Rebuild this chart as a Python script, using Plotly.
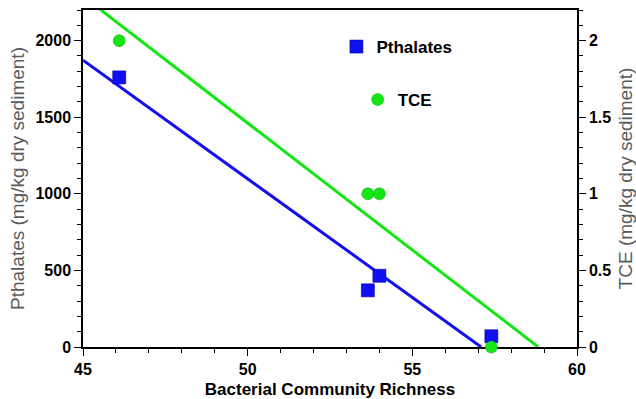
import numpy as np
import plotly.graph_objects as go

# Bacterial community richness at each sampling site
richness = [46.1, 53.65, 54.0, 57.4]
# Contaminant concentrations (mg/kg dry sediment)
pthalates = [1760, 370, 465, 70]
tce = [2.0, 1.0, 1.0, 0.0]

BLUE = "#0F0FF2"
GREEN = "#14E614"
FONT = "Liberation Sans, Arial, sans-serif"


def fit_line(x, y, x_start):
    """Least-squares line from x_start to where it meets zero."""
    slope, intercept = np.polyfit(x, y, 1)
    x_zero = -intercept / slope
    xs = [x_start, x_zero]
    return xs, [slope * v + intercept for v in xs]


fig = go.Figure()

px_x, px_y = fit_line(richness, pthalates, 45)
tc_x, tc_y = fit_line(richness, tce, 45)

fig.add_trace(go.Scatter(x=px_x, y=px_y, mode="lines",
                         line=dict(color=BLUE, width=3), showlegend=False,
                         hoverinfo="skip"))
fig.add_trace(go.Scatter(x=tc_x, y=tc_y, mode="lines", yaxis="y2",
                         line=dict(color=GREEN, width=3), showlegend=False,
                         hoverinfo="skip"))

fig.add_trace(go.Scatter(x=richness, y=pthalates, mode="markers",
                         name="Pthalates", legend="legend",
                         marker=dict(symbol="square", size=13, color=BLUE,
                                     line=dict(color="#0000A0", width=0.6)),
                         cliponaxis=False))
fig.add_trace(go.Scatter(x=richness, y=tce, mode="markers", yaxis="y2",
                         name="TCE", legend="legend2",
                         marker=dict(symbol="circle", size=12, color=GREEN,
                                     line=dict(color="#10B010", width=0.6)),
                         cliponaxis=False))

tickfont = dict(family=FONT, size=16, color="black", weight="bold")
title_gray = dict(family=FONT, size=19, color="#5A5A5A")

axis_common = dict(
    showline=True, linecolor="black", linewidth=1.5,
    ticks="outside", ticklen=7, tickwidth=1.2, tickcolor="black",
    showgrid=False, zeroline=False, tickfont=tickfont,
    layer="below traces", automargin=False,
)

fig.update_layout(
    width=636, height=399,
    margin=dict(l=83, r=59, t=10, b=52, autoexpand=False),
    paper_bgcolor="white", plot_bgcolor="white",
    xaxis=dict(
        range=[45, 60], dtick=5, tick0=45, mirror=True,
        minor=dict(dtick=1, ticks="outside", ticklen=4, tickcolor="black"),
        title=dict(text="Bacterial Community Richness", standoff=7,
                   font=dict(family=FONT, size=17, color="black",
                             weight="bold")),
        **axis_common,
    ),
    yaxis=dict(
        range=[0, 2200], dtick=500, tick0=0,
        minor=dict(dtick=100, ticks="outside", ticklen=4, tickcolor="black"),
        title=dict(text="Pthalates (mg/kg dry sediment)", font=title_gray,
                   standoff=6),
        **axis_common,
    ),
    yaxis2=dict(
        range=[0, 2.2], dtick=0.5, tick0=0, overlaying="y", side="right",
        minor=dict(dtick=0.1, ticks="outside", ticklen=4, tickcolor="black"),
        title=dict(text="TCE (mg/kg dry sediment)", font=title_gray,
                   standoff=9),
        **axis_common,
    ),
    legend=dict(x=0.513, y=0.89, xanchor="left", yanchor="middle",
                bgcolor="rgba(0,0,0,0)",
                font=dict(family=FONT, size=17, color="black", weight="bold")),
    legend2=dict(x=0.556, y=0.733, xanchor="left", yanchor="middle",
                 bgcolor="rgba(0,0,0,0)",
                 font=dict(family=FONT, size=17, color="black",
                           weight="bold")),
)

fig.write_html("out.html")
